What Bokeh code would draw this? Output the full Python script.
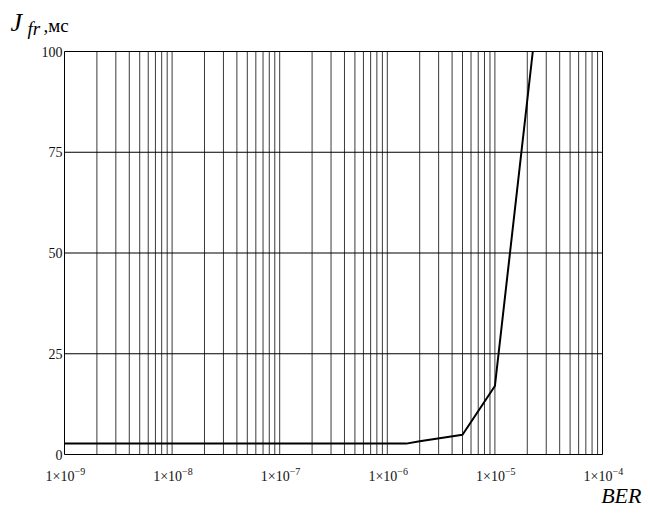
from bokeh.plotting import figure
from bokeh.models import Range1d, Label
from bokeh.embed import file_html
from bokeh.resources import INLINE

# data
ber = [1e-9, 1e-8, 1e-7, 1e-6, 1.5e-6, 2e-6, 5e-6, 1e-5, 2.25e-5]
jfr = [2.7, 2.7, 2.7, 2.7, 2.7, 3.3, 4.9, 17.0, 100.0]

y_ticks = [0, 25, 50, 75, 100]
y_labels = ["0", "25", "50", "75", "100"]
decade_exps = [-9, -8, -7, -6, -5, -4]
x_min, x_max = 1e-9, 1e-4
y_min, y_max = 0, 100
x_grid = sorted({m * 10.0 ** e for e in range(-9, -4) for m in range(1, 10)} | {x_max})

# layout (pixels)
W, H = 642, 508
PL, PR, PT, PB = 64, 602, 51, 454  # plot box edges
dec_px = (PR - PL) / 5.0
ypp = (y_max - y_min) / (PB - PT)

x_start = 10 ** (-9 - PL / dec_px)
x_end = 10 ** (-4 + (W - PR) / dec_px)
y_start = y_min - (H - PB) * ypp
y_end = y_max + PT * ypp

p = figure(width=W, height=H, x_axis_type="log", output_backend="svg",
           toolbar_location=None, x_range=Range1d(x_start, x_end),
           y_range=Range1d(y_start, y_end), min_border=0,
           x_axis_location=None, y_axis_location=None)
p.background_fill_color = "white"
p.border_fill_color = "white"
p.outline_line_color = None
p.grid.visible = False

# vertical grid (log decades and minor), horizontal grid
inner = [g for g in x_grid if g not in (x_min, x_max)]
p.segment(x0=inner, y0=[y_min] * len(inner), x1=inner, y1=[y_max] * len(inner),
          line_color="#3a3a3a", line_width=1)
p.segment(x0=[x_min] * len(y_ticks), y0=y_ticks, x1=[x_max] * len(y_ticks), y1=y_ticks,
          line_color="black", line_width=1)
p.segment(x0=[x_min, x_max], y0=[y_min, y_min], x1=[x_min, x_max], y1=[y_max, y_max],
          line_color="black", line_width=1)

p.line(ber, jfr, line_color="black", line_width=2)

FONT = "Liberation Serif"
TC = "#111111"

def sy(py):
    # pixel row from the top -> screen units from the bottom
    return H - py

# y tick labels
for t, lab in zip(y_ticks, y_labels):
    p.add_layout(Label(x=PL - 2, y=t, x_units="screen", text=lab, text_align="right",
                       text_baseline="middle", text_font=FONT, text_font_size="14px",
                       text_color=TC))

# x tick labels 1x10^k
for e in decade_exps:
    p.add_layout(Label(x=10.0 ** e, y=sy(475.5), y_units="screen", text="1×10",
                       text_align="right", text_baseline="middle", x_offset=10,
                       text_font=FONT, text_font_size="14px", text_color=TC))
    p.add_layout(Label(x=10.0 ** e, y=sy(470.5), y_units="screen", text="−" + str(-e),
                       text_align="left", text_baseline="middle", x_offset=10,
                       text_font=FONT, text_font_size="10px", text_color=TC))

# axis titles
p.add_layout(Label(x=10, y=sy(21.5), x_units="screen", y_units="screen", text="J",
                   text_font=FONT, text_font_style="italic", text_font_size="26px",
                   text_baseline="middle", text_color="black"))
p.add_layout(Label(x=27, y=sy(27.5), x_units="screen", y_units="screen", text="fr",
                   text_font=FONT, text_font_style="italic", text_font_size="19px",
                   text_baseline="middle", text_color="black"))
p.add_layout(Label(x=43, y=sy(25), x_units="screen", y_units="screen", text=",мс",
                   text_font=FONT, text_font_size="19px", text_baseline="middle",
                   text_color="black"))
p.add_layout(Label(x=641, y=sy(495), x_units="screen", y_units="screen", text="BER",
                   text_font=FONT, text_font_style="italic", text_font_size="22px",
                   text_align="right", text_baseline="middle", text_color="black"))

open("out.html", "w").write(file_html(p, INLINE))
